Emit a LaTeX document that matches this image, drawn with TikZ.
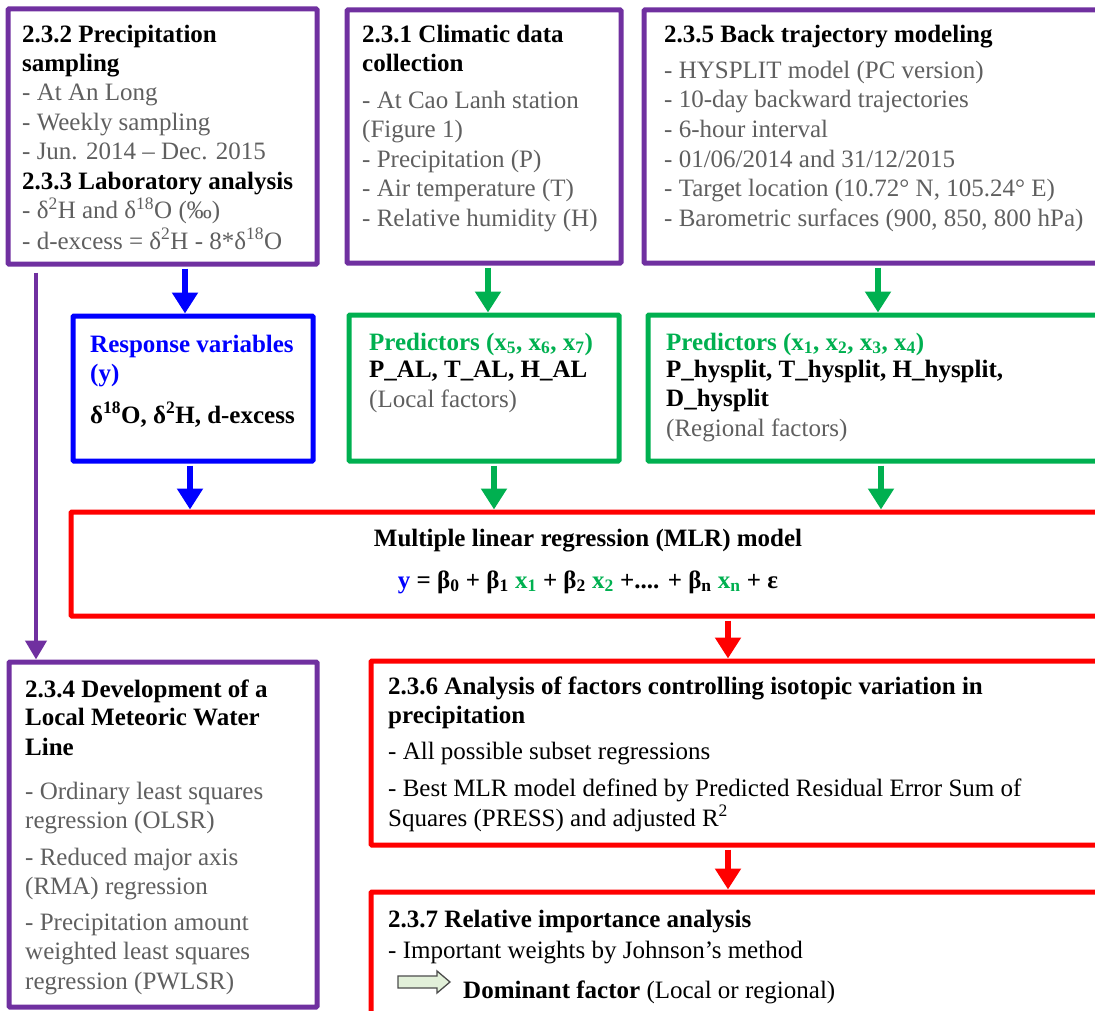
\documentclass[tikz,border=0pt]{standalone}
\usepackage{fontspec}
\setmainfont{Liberation Serif}
\usetikzlibrary{arrows.meta,fit}
\definecolor{cpurple}{HTML}{7030A0}
\definecolor{cblue}{HTML}{0000FF}
\definecolor{cgreen}{HTML}{00B050}
\definecolor{cred}{HTML}{FF0000}
\definecolor{cgrey}{HTML}{5F5F5F}
\definecolor{cpale}{HTML}{E2F0D9}
\begin{document}
\begin{tikzpicture}[x=1pt,y=-1pt,
  box/.style={line width=5pt, rounded corners=1pt, inner sep=0pt},
  tx/.style={anchor=base west, inner sep=0pt, font=\fontsize{25}{29.5}\selectfont},
  ttl/.style={tx, font=\fontsize{25}{29.5}\selectfont\bfseries},
  gry/.style={tx, text=cgrey},
  arr/.style={line width=5.5pt, -{Triangle[width=25pt,length=21pt]}, shorten <=2pt},
]
\useasboundingbox (0,0) rectangle (1095,1011);
\clip (0,0) rectangle (1095,1011);

% boxes
\node[box,draw=cpurple,fit={(8,9)(317,264)}] (b232) {};
\node[box,draw=cpurple,fit={(347,10)(621,263)}] (b231) {};
\node[box,draw=cpurple,fit={(644,10)(1105,263)}] (b235) {};
\node[box,draw=cblue,fit={(73,316)(313,461)}] (resp) {};
\node[box,draw=cgreen,fit={(349,315)(619,461)}] (loc) {};
\node[box,draw=cgreen,fit={(648,315)(1105,461)}] (reg) {};
\node[box,draw=cred,fit={(71,512)(1105,616)}] (mlr) {};
\node[box,draw=cpurple,fit={(9,662)(317,1007)}] (b234) {};
\node[box,draw=cred,fit={(371,661)(1105,845)}] (b236) {};
\node[box,draw=cred,fit={(371,892)(1105,1040)}] (b237) {};

% connectors
\draw[arr,cblue] (185,0 |- b232.south) -- (185,0 |- resp.north);
\draw[arr,cblue] (190,0 |- resp.south) -- (190,0 |- mlr.north);
\draw[arr,cgreen] (488,0 |- b231.south) -- (488,0 |- loc.north);
\draw[arr,cgreen] (494,0 |- loc.south) -- (494,0 |- mlr.north);
\draw[arr,cgreen] (878,0 |- b235.south) -- (878,0 |- reg.north);
\draw[arr,cgreen] (881,0 |- reg.south) -- (881,0 |- mlr.north);
\draw[arr,cred] (728,0 |- mlr.south) -- (728,0 |- b236.north);
\draw[arr,cred] (728,0 |- b236.south) -- (728,0 |- b237.north);
\draw[line width=4.5pt,cpurple,-{Triangle[width=21pt,length=19pt]},shorten <=6pt]
  (36,0 |- b232.south) -- (36,0 |- b234.north);

% 2.3.2 / 2.3.3
\node[ttl] (a1) at (22,43) {2.3.2 Precipitation};
\node[ttl] (a2) at (22,72) {sampling};
\node[gry] (a3) at (22,101) {- At An Long};
\node[gry] (a4) at (22,131) {- Weekly sampling};
\node[gry] (a5) at (22,160) {- Jun. 2014 – Dec. 2015};
\node[ttl] (a6) at (22,190) {2.3.3 Laboratory analysis};
\node[gry] (a7) at (22,219) {- δ\textsuperscript{2}H and δ\textsuperscript{18}O (‰)};
\node[gry] (a8) at (22,249) {- d-excess = δ\textsuperscript{2}H - 8*δ\textsuperscript{18}O};

% 2.3.1
\node[ttl] (c1) at (362,43) {2.3.1 Climatic data};
\node[ttl] (c2) at (362,72) {collection};
\node[gry] (c3) at (362,109) {- At Cao Lanh station};
\node[gry] (c4) at (362,138) {(Figure 1)};
\node[gry] (c5) at (362,168) {- Precipitation (P)};
\node[gry] (c6) at (362,197) {- Air temperature (T)};
\node[gry] (c7) at (362,227) {- Relative humidity (H)};

% 2.3.5
\node[ttl] (h1) at (664,43) {2.3.5 Back trajectory modeling};
\node[gry] (h2) at (664,79) {- HYSPLIT model (PC version)};
\node[gry] (h3) at (664,108) {- 10-day backward trajectories};
\node[gry] (h4) at (664,138) {- 6-hour interval};
\node[gry] (h5) at (664,168) {- 01/06/2014 and 31/12/2015};
\node[gry] (h6) at (664,197) {- Target location (10.72° N, 105.24° E)};
\node[gry] (h7) at (664,227) {- Barometric surfaces (900, 850, 800 hPa)};

% response
\node[ttl,text=cblue] (r1) at (90,352) {Response variables};
\node[ttl,text=cblue] (r2) at (90,381) {(y)};
\node[ttl] (r3) at (90,423) {δ\textsuperscript{18}O, δ\textsuperscript{2}H, d-excess};

% local predictors
\node[ttl,text=cgreen] (l1) at (369,350) {Predictors (x\textsubscript{5}, x\textsubscript{6}, x\textsubscript{7})};
\node[ttl] (l2) at (369,377) {P\_AL, T\_AL, H\_AL};
\node[gry] (l3) at (369,407) {(Local factors)};

% regional predictors
\node[ttl,text=cgreen] (g1) at (666,350) {Predictors (x\textsubscript{1}, x\textsubscript{2}, x\textsubscript{3}, x\textsubscript{4})};
\node[ttl] (g2) at (666,377) {P\_hysplit, T\_hysplit, H\_hysplit,};
\node[ttl] (g3) at (666,406) {D\_hysplit};
\node[gry] (g4) at (666,436) {(Regional factors)};

% MLR
\node[ttl,anchor=base] (m1) at (588,546) {Multiple linear regression (MLR) model};
\node[ttl,anchor=base] (m2) at (588,588) {\textcolor{cblue}{y} = β\textsubscript{0} + β\textsubscript{1} \textcolor{cgreen}{x\textsubscript{1}} + β\textsubscript{2} \textcolor{cgreen}{x\textsubscript{2}} +.... + β\textsubscript{n} \textcolor{cgreen}{x\textsubscript{n}} + ε};

% 2.3.4
\node[ttl] (d1) at (25,697) {2.3.4 Development of a};
\node[ttl] (d2) at (25,725) {Local Meteoric Water};
\node[ttl] (d3) at (25,755) {Line};
\node[gry] (d4) at (25,799) {- Ordinary least squares};
\node[gry] (d5) at (25,828) {regression (OLSR)};
\node[gry] (d6) at (25,865) {- Reduced major axis};
\node[gry] (d7) at (25,894) {(RMA) regression};
\node[gry] (d8) at (25,930) {- Precipitation amount};
\node[gry] (d9) at (25,959) {weighted least squares};
\node[gry] (d10) at (25,989) {regression (PWLSR)};

% 2.3.6
\node[ttl] (e1) at (388,694) {2.3.6 Analysis of factors controlling isotopic variation in};
\node[ttl] (e2) at (388,723) {precipitation};
\node[tx] (e3) at (388,759) {- All possible subset regressions};
\node[tx] (e4) at (388,796) {- Best MLR model defined by Predicted Residual Error Sum of};
\node[tx] (e5) at (388,826) {Squares (PRESS) and adjusted R\textsuperscript{2}};

% 2.3.7
\node[ttl] (f1) at (388,927) {2.3.7 Relative importance analysis};
\node[tx] (f2) at (388,958) {- Important weights by Johnson’s method};
\draw[fill=cpale,draw=black!70,line width=1.3pt,line join=miter]
  (398,976) -- (437,976) -- (437,971) -- (450,982) -- (437,993) -- (437,988) -- (398,988) -- cycle;
\node[tx] (f3) at (463,998) {\textbf{Dominant factor} (Local or regional)};
\end{tikzpicture}
\end{document}
